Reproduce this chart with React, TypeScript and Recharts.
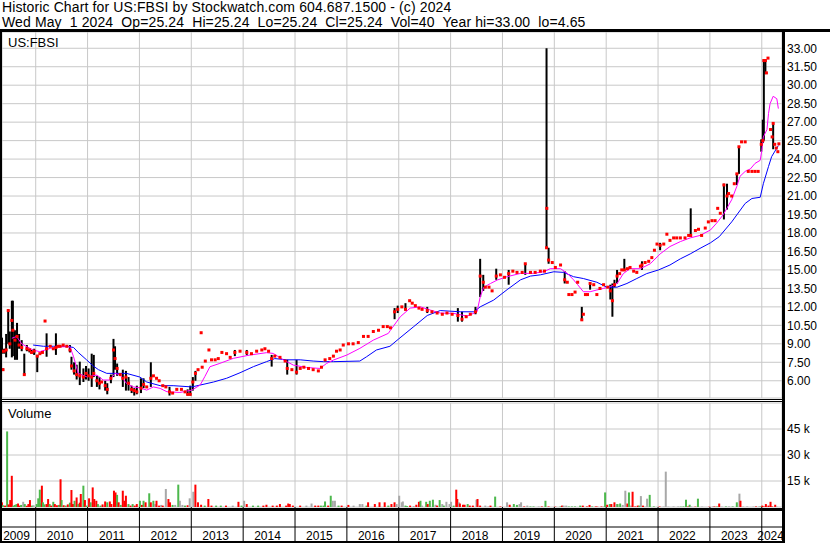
import React from 'react';
import { ComposedChart, Bar, Line, Scatter, XAxis, YAxis, CartesianGrid, Cell } from 'recharts';

const FONT = '"Liberation Sans", Arial, Helvetica, sans-serif';

// ---------- axes ----------
const X_DOMAIN: [number, number] = [2009.35, 2024.39];
const yearBoundaries = [2010, 2011, 2012, 2013, 2014, 2015, 2016, 2017, 2018, 2019, 2020, 2021, 2022, 2023, 2024];
const yearLabels = ['2009', '2010', '2011', '2012', '2013', '2014', '2015', '2016', '2017', '2018', '2019', '2020', '2021', '2022', '2023', '2024'];
const yearLabelPos = [2009.63, 2010.47, 2011.47, 2012.47, 2013.47, 2014.47, 2015.47, 2016.47, 2017.47, 2018.47, 2019.47, 2020.47, 2021.47, 2022.47, 2023.47, 2024.17];
const priceTicks = [6, 7.5, 9, 10.5, 12, 13.5, 15, 16.5, 18, 19.5, 21, 22.5, 24, 25.5, 27, 28.5, 30, 31.5, 33];
const volumeTicks = [15, 30, 45];

// ---------- price bars: [date, close, low?, high?] ----------
const priceBars: number[][] = [
  [2009.35, 8.4, 8.2, 9.5], [2009.37, 6.9, 6.8, 7.0], [2009.39, 8.4, 8.2, 8.6], [2009.43, 8.5, 7.9, 9.8],
  [2009.47, 11.7, 9.0, 11.8], [2009.50, 9.0, 8.6, 10.0], [2009.54, 10.9, 7.9, 12.5], [2009.56, 10.1, 8.0, 12.5],
  [2009.60, 9.3, 7.7, 10.1], [2009.64, 9.6, 7.7, 10.7], [2009.68, 8.9, 8.6, 9.8], [2009.73, 8.7, 8.4, 9.3],
  [2009.78, 6.5, 6.5, 8.2], [2009.83, 8.6, 8.4, 8.9], [2009.88, 8.5, 8.3, 8.6], [2009.92, 8.3, 8.2, 8.5],
  [2009.97, 8.4, 8.1, 8.6],
  [2010.03, 8.0, 6.7, 8.1], [2010.08, 8.2], [2010.13, 8.3], [2010.18, 10.85], [2010.21, 8.6, 7.95, 9.85],
  [2010.28, 8.8], [2010.34, 8.6], [2010.39, 8.7, 8.1, 9.85], [2010.43, 8.8], [2010.47, 8.8], [2010.53, 8.9],
  [2010.60, 8.8], [2010.66, 8.5, 8.3, 8.9], [2010.69, 7.2, 6.9, 7.95], [2010.74, 6.8, 6.5, 7.5],
  [2010.79, 6.5, 6.1, 7.3], [2010.85, 6.4, 5.65, 7.55], [2010.92, 6.3, 5.9, 7.0], [2010.97, 6.6, 6.1, 7.2],
  [2011.02, 6.4, 6.0, 7.0], [2011.08, 6.3, 5.5, 8.2], [2011.12, 6.6, 6.3, 8.1], [2011.18, 6.0, 5.5, 6.4],
  [2011.23, 5.8, 5.3, 6.3], [2011.27, 5.9], [2011.34, 5.6, 5.2, 6.0], [2011.38, 5.3, 4.9, 5.8],
  [2011.45, 6.2, 5.8, 6.5], [2011.50, 8.5, 6.3, 9.4], [2011.53, 7.8, 6.9, 8.8], [2011.57, 7.0, 6.4, 7.4],
  [2011.63, 6.5], [2011.68, 6.2, 5.5, 6.9], [2011.74, 6.3, 5.2, 6.8], [2011.79, 5.8, 5.2, 6.3],
  [2011.85, 5.3, 5.0, 5.6], [2011.90, 5.2, 4.8, 5.4], [2011.95, 5.1, 4.9, 5.6],
  [2012.03, 5.4, 5.0, 6.2], [2012.08, 5.7, 5.4, 6.2], [2012.14, 5.5], [2012.22, 6.2, 5.5, 7.5], [2012.27, 6.4],
  [2012.33, 6.2], [2012.38, 6.0], [2012.45, 5.6], [2012.51, 5.5], [2012.58, 5.1, 4.8, 5.5], [2012.64, 5.0],
  [2012.72, 5.3], [2012.81, 5.3], [2012.88, 5.1], [2012.93, 4.9, 4.8, 5.3], [2012.98, 4.9, 4.8, 5.6],
  [2013.03, 5.9, 5.2, 6.3], [2013.08, 6.6, 6.0, 6.8], [2013.13, 6.9], [2013.19, 9.9], [2013.21, 7.1],
  [2013.27, 7.6], [2013.34, 8.5], [2013.39, 7.7], [2013.46, 7.7], [2013.52, 7.8], [2013.59, 8.3],
  [2013.68, 8.2], [2013.75, 7.9], [2013.84, 8.3, 8.0, 8.5], [2013.94, 8.4],
  [2014.07, 8.3, 8.1, 8.5], [2014.16, 8.2], [2014.26, 8.4], [2014.36, 8.5], [2014.42, 8.6], [2014.49, 8.4],
  [2014.55, 7.8, 7.15, 8.1], [2014.61, 8.0], [2014.71, 7.9], [2014.81, 7.6], [2014.85, 7.0, 6.5, 7.7], [2014.94, 6.9],
  [2015.03, 6.7, 6.5, 7.7], [2015.10, 7.0], [2015.17, 7.1], [2015.26, 7.0], [2015.35, 6.9], [2015.45, 6.8],
  [2015.51, 7.1], [2015.58, 7.7], [2015.67, 7.8], [2015.74, 8.0], [2015.80, 8.4], [2015.87, 8.5], [2015.93, 8.9],
  [2016.03, 9.0], [2016.12, 9.0], [2016.22, 9.1], [2016.32, 9.6], [2016.41, 9.6], [2016.51, 10.0],
  [2016.61, 10.1], [2016.70, 10.4], [2016.78, 10.4], [2016.84, 10.3], [2016.92, 11.6, 11.0, 11.9], [2016.98, 11.8, 11.5, 12.1],
  [2017.06, 12.0], [2017.13, 11.8, 11.7, 12.3], [2017.21, 12.5], [2017.26, 12.3], [2017.32, 12.1], [2017.39, 11.9],
  [2017.45, 11.8], [2017.55, 11.7, 11.5, 12.0], [2017.64, 11.6], [2017.74, 11.5], [2017.84, 11.4], [2017.93, 11.5],
  [2018.03, 11.4], [2018.14, 11.3, 10.8, 11.9], [2018.22, 11.0, 10.8, 11.6], [2018.30, 11.2], [2018.38, 11.4],
  [2018.48, 11.6, 11.4, 12.0], [2018.57, 14.5, 12.8, 15.9], [2018.63, 14.0, 13.3, 14.6], [2018.67, 13.6],
  [2018.74, 13.6], [2018.80, 13.3], [2018.88, 14.5, 14.2, 15.1], [2018.96, 14.6],
  [2019.04, 14.4], [2019.12, 14.7, 13.8, 15.0], [2019.20, 14.9], [2019.28, 14.8], [2019.38, 14.8],
  [2019.44, 15.5, 14.6, 15.5], [2019.54, 14.8], [2019.63, 14.8], [2019.73, 14.9], [2019.81, 14.9],
  [2019.85, 16.8, 16.8, 33.0], [2019.855, 20.0], [2019.89, 15.8, 15.5, 16.8], [2019.96, 15.6],
  [2020.02, 15.2], [2020.12, 15.4], [2020.20, 14.2, 13.9, 14.9], [2020.25, 14.0], [2020.28, 13.0], [2020.34, 13.0],
  [2020.40, 13.2], [2020.45, 14.0], [2020.53, 10.95, 10.9, 12.0], [2020.56, 11.4], [2020.60, 13.0], [2020.64, 13.0],
  [2020.69, 13.9, 13.4, 13.9], [2020.76, 13.8], [2020.82, 13.0], [2020.88, 13.5], [2020.95, 13.8],
  [2021.03, 13.6], [2021.08, 13.3, 12.6, 13.8], [2021.12, 12.5, 11.2, 13.9], [2021.16, 13.8, 13.6, 14.2],
  [2021.21, 14.5, 13.9, 15.0], [2021.26, 14.7], [2021.30, 15.0], [2021.35, 15.0, 15.0, 15.9], [2021.41, 15.1],
  [2021.46, 15.2], [2021.53, 14.9], [2021.59, 14.8], [2021.66, 15.3], [2021.69, 15.4, 15.0, 15.7], [2021.75, 15.6],
  [2021.82, 15.7], [2021.88, 16.0], [2021.93, 16.6], [2021.98, 17.1],
  [2022.04, 17.0, 16.6, 17.2], [2022.11, 17.1], [2022.17, 17.9], [2022.23, 17.4], [2022.30, 17.6], [2022.36, 17.6],
  [2022.43, 17.6], [2022.52, 17.6], [2022.59, 17.8], [2022.63, 17.8, 17.7, 20.0], [2022.72, 18.2], [2022.78, 18.3],
  [2022.84, 17.8], [2022.91, 18.4], [2022.97, 18.9],
  [2023.04, 19.0], [2023.10, 19.0], [2023.15, 20.0], [2023.20, 19.6], [2023.27, 21.9, 19.1, 22.0],
  [2023.33, 21.0, 19.9, 22.0], [2023.36, 21.2], [2023.42, 21.0], [2023.47, 22.0], [2023.52, 22.8, 21.9, 22.8],
  [2023.56, 25.0, 22.8, 25.0], [2023.61, 25.4], [2023.68, 25.4], [2023.74, 23.0], [2023.81, 23.0], [2023.87, 23.0],
  [2023.93, 23.0], [2023.99, 25.2, 24.6, 25.6],
  [2024.02, 25.5, 25.3, 27.2], [2024.04, 32.0, 25.5, 32.1], [2024.07, 32.0, 30.9, 32.1], [2024.09, 31.0],
  [2024.12, 32.2], [2024.17, 26.4], [2024.20, 25.8], [2024.22, 26.9, 24.8, 26.9], [2024.25, 25.2],
  [2024.28, 24.9], [2024.31, 24.6], [2024.33, 25.24],
];

// ---------- moving averages: [date, value] ----------
const ma200: number[][] = [
  [2009.95, 8.9], [2010.15, 8.8], [2010.34, 8.8], [2010.60, 8.8], [2010.73, 8.7], [2010.82, 8.3], [2010.98, 7.7],
  [2011.11, 7.2], [2011.21, 6.9], [2011.37, 6.6], [2011.75, 6.6], [2012.01, 6.3], [2012.14, 5.9], [2012.40, 5.6],
  [2012.65, 5.6], [2013.01, 5.5], [2013.17, 5.65], [2013.43, 5.9], [2013.68, 6.2], [2013.94, 6.65], [2014.20, 7.15],
  [2014.45, 7.55], [2014.61, 7.8], [2014.84, 7.7], [2015.10, 7.7], [2015.35, 7.6], [2015.55, 7.55], [2015.74, 7.55],
  [2016.25, 7.6], [2016.38, 7.95], [2016.57, 8.5], [2016.83, 8.8], [2017.0, 9.4], [2017.29, 10.4], [2017.55, 11.3],
  [2017.80, 11.7], [2018.19, 11.6], [2018.45, 11.6], [2018.57, 12.0], [2018.83, 12.55], [2019.09, 13.4],
  [2019.35, 14.2], [2019.54, 14.5], [2019.73, 14.6], [2019.99, 14.85], [2020.18, 14.8], [2020.37, 14.45],
  [2020.56, 14.3], [2020.82, 14.0], [2021.01, 13.6], [2021.21, 13.6], [2021.40, 13.9], [2021.59, 14.3],
  [2021.78, 14.7], [2022.01, 15.0], [2022.23, 15.4], [2022.43, 15.9], [2022.62, 16.3], [2022.81, 16.75],
  [2023.01, 17.2], [2023.18, 17.7], [2023.42, 18.9], [2023.68, 20.4], [2023.81, 20.8], [2023.97, 20.9],
  [2024.03, 22.0], [2024.13, 23.4], [2024.19, 24.2], [2024.32, 25.1],
];
const ma50: number[][] = [
  [2009.54, 9.45], [2009.63, 9.6], [2009.73, 9.0], [2009.83, 8.76], [2009.955, 8.49], [2010.08, 8.36],
  [2010.28, 8.63], [2010.47, 8.76], [2010.66, 8.76], [2010.73, 7.95], [2010.82, 6.6], [2010.98, 6.33],
  [2011.18, 6.46], [2011.30, 6.06], [2011.43, 6.06], [2011.53, 6.6], [2011.63, 6.46], [2011.75, 5.79],
  [2011.88, 5.5], [2012.01, 5.43], [2012.14, 5.24], [2012.27, 5.5], [2012.40, 5.38], [2012.53, 5.11],
  [2012.78, 5.05], [2013.01, 5.24], [2013.17, 5.65], [2013.26, 6.33], [2013.36, 7.14], [2013.55, 7.41],
  [2013.81, 7.82], [2014.13, 8.09], [2014.45, 8.28], [2014.58, 8.22], [2014.78, 7.68], [2014.97, 7.27],
  [2015.22, 7.08], [2015.48, 7.0], [2015.61, 7.41], [2015.74, 7.68], [2016.0, 8.09], [2016.25, 8.63],
  [2016.51, 9.3], [2016.80, 9.85], [2016.84, 10.1], [2017.03, 11.2], [2017.22, 11.9], [2017.42, 12.0],
  [2017.61, 11.74], [2017.80, 11.5], [2018.06, 11.47], [2018.32, 11.25], [2018.51, 11.6], [2018.57, 12.8],
  [2018.64, 13.6], [2018.77, 13.9], [2018.90, 14.18], [2019.09, 14.45], [2019.35, 14.72], [2019.60, 14.72],
  [2019.80, 14.86], [2019.92, 15.1], [2020.12, 15.1], [2020.25, 14.72], [2020.37, 14.2], [2020.45, 13.8],
  [2020.56, 13.23], [2020.69, 13.23], [2020.82, 13.37], [2020.95, 13.5], [2021.08, 13.64], [2021.21, 13.9],
  [2021.33, 14.7], [2021.46, 15.1], [2021.66, 15.1], [2021.85, 15.5], [2022.04, 16.3], [2022.23, 16.9],
  [2022.43, 17.3], [2022.62, 17.6], [2022.81, 17.8], [2023.01, 18.24], [2023.13, 18.8], [2023.26, 19.5],
  [2023.34, 20.1], [2023.42, 20.7], [2023.52, 21.8], [2023.58, 22.6], [2023.68, 23.0], [2023.78, 23.2],
  [2023.87, 23.65], [2023.97, 23.9], [2024.0, 24.7], [2024.03, 25.8], [2024.10, 26.4], [2024.13, 27.7],
  [2024.16, 28.5], [2024.22, 29.1], [2024.29, 28.9], [2024.32, 28.1],
];

// ---------- volume (thousands): [date, volume, colour r=down g=up n=unchanged] ----------
const volumeBars: [number, number, string][] = [
  [2009.35, 2.7, 'r'], [2009.37, 1.0, 'g'], [2009.41, 0.8, 'r'], [2009.45, 43.6, 'g'], [2009.48, 1.5, 'r'],
  [2009.51, 4.0, 'r'], [2009.54, 18.0, 'r'], [2009.57, 0.8, 'g'], [2009.60, 1.2, 'g'], [2009.63, 1.7, 'g'],
  [2009.66, 2.0, 'r'], [2009.69, 0.8, 'r'], [2009.72, 1.2, 'g'], [2009.76, 3.0, 'n'], [2009.79, 1.7, 'g'],
  [2009.83, 0.7, 'r'], [2009.86, 1.7, 'r'], [2009.89, 4.0, 'r'], [2009.93, 0.8, 'g'], [2009.96, 1.0, 'n'],
  [2010.02, 1.7, 'g'], [2010.05, 5.0, 'g'], [2010.08, 10.0, 'g'], [2010.10, 2.0, 'g'], [2010.12, 12.3, 'r'],
  [2010.14, 2.7, 'g'], [2010.17, 1.5, 'g'], [2010.21, 1.7, 'r'], [2010.24, 4.6, 'r'], [2010.27, 1.7, 'g'],
  [2010.30, 0.8, 'r'], [2010.34, 3.0, 'g'], [2010.37, 1.7, 'r'], [2010.41, 1.0, 'r'], [2010.45, 1.2, 'g'],
  [2010.48, 16.0, 'r'], [2010.50, 4.0, 'g'], [2010.54, 1.0, 'r'], [2010.58, 0.8, 'g'], [2010.62, 1.5, 'r'],
  [2010.66, 2.5, 'g'], [2010.69, 9.8, 'r'], [2010.72, 1.7, 'r'], [2010.75, 3.6, 'g'], [2010.79, 5.5, 'r'],
  [2010.82, 1.7, 'g'], [2010.85, 2.5, 'r'], [2010.87, 7.5, 'r'], [2010.92, 12.3, 'g'], [2010.95, 4.0, 'r'],
  [2010.98, 0.8, 'g'],
  [2011.03, 5.0, 'r'], [2011.06, 2.7, 'g'], [2011.10, 11.3, 'r'], [2011.13, 4.6, 'r'], [2011.17, 3.6, 'r'],
  [2011.20, 1.7, 'g'], [2011.25, 0.8, 'g'], [2011.29, 1.5, 'r'], [2011.34, 3.2, 'r'], [2011.38, 2.7, 'g'],
  [2011.43, 3.2, 'r'], [2011.46, 1.7, 'r'], [2011.51, 9.4, 'r'], [2011.54, 8.4, 'r'], [2011.57, 7.0, 'g'],
  [2011.60, 2.7, 'r'], [2011.64, 1.2, 'g'], [2011.68, 9.4, 'r'], [2011.71, 3.6, 'r'], [2011.74, 6.5, 'r'],
  [2011.79, 1.7, 'g'], [2011.83, 0.8, 'r'], [2011.87, 1.7, 'g'], [2011.91, 0.8, 'r'], [2011.95, 1.7, 'r'],
  [2012.01, 3.6, 'g'], [2012.05, 1.2, 'r'], [2012.08, 3.6, 'g'], [2012.12, 2.7, 'r'], [2012.19, 7.9, 'g'],
  [2012.22, 2.7, 'r'], [2012.27, 3.6, 'g'], [2012.30, 1.7, 'n'], [2012.33, 3.6, 'r'], [2012.38, 0.8, 'r'],
  [2012.42, 1.2, 'n'], [2012.45, 0.8, 'r'], [2012.51, 10.4, 'n'], [2012.56, 4.6, 'r'], [2012.59, 2.7, 'r'],
  [2012.64, 1.2, 'g'], [2012.69, 1.2, 'n'], [2012.75, 12.9, 'g'], [2012.78, 3.6, 'n'], [2012.83, 1.2, 'n'],
  [2012.88, 0.8, 'g'], [2012.93, 1.0, 'r'], [2012.97, 5.0, 'n'],
  [2013.04, 8.8, 'n'], [2013.08, 12.9, 'r'], [2013.13, 2.7, 'r'], [2013.19, 1.3, 'r'], [2013.26, 0.8, 'g'],
  [2013.33, 4.6, 'r'], [2013.39, 0.8, 'r'], [2013.48, 0.8, 'g'], [2013.57, 0.8, 'g'], [2013.67, 0.8, 'r'],
  [2013.80, 0.8, 'n'], [2013.91, 3.0, 'r'], [2013.97, 0.8, 'g'],
  [2014.02, 3.6, 'n'], [2014.07, 1.7, 'r'], [2014.19, 0.8, 'g'], [2014.29, 0.8, 'g'], [2014.39, 0.8, 'r'],
  [2014.45, 1.3, 'r'], [2014.57, 0.8, 'r'], [2014.65, 0.8, 'r'], [2014.71, 1.7, 'r'], [2014.83, 0.8, 'r'],
  [2014.87, 2.0, 'r'], [2014.90, 1.7, 'r'], [2014.96, 0.8, 'r'],
  [2015.10, 0.8, 'r'], [2015.22, 0.8, 'n'], [2015.32, 2.0, 'n'], [2015.39, 0.8, 'r'], [2015.45, 0.8, 'r'],
  [2015.50, 0.8, 'g'], [2015.55, 0.8, 'g'], [2015.58, 3.2, 'g'], [2015.64, 0.8, 'r'], [2015.69, 6.5, 'g'],
  [2015.73, 3.6, 'n'], [2015.77, 3.6, 'n'], [2015.84, 0.8, 'g'], [2015.90, 0.8, 'r'],
  [2016.03, 1.2, 'r'], [2016.13, 0.8, 'n'], [2016.25, 1.7, 'n'], [2016.30, 1.7, 'n'], [2016.38, 0.8, 'g'],
  [2016.41, 2.7, 'r'], [2016.54, 1.7, 'r'], [2016.63, 2.7, 'r'], [2016.73, 2.7, 'r'], [2016.80, 0.8, 'g'],
  [2016.86, 1.7, 'r'], [2016.92, 2.7, 'r'], [2016.96, 1.7, 'n'],
  [2017.01, 6.5, 'n'], [2017.06, 2.7, 'n'], [2017.08, 3.2, 'n'], [2017.13, 0.8, 'g'], [2017.16, 0.5, 'g'],
  [2017.22, 0.8, 'r'], [2017.29, 0.5, 'n'], [2017.34, 1.3, 'r'], [2017.39, 3.0, 'r'], [2017.42, 3.6, 'g'],
  [2017.45, 0.8, 'n'], [2017.53, 3.0, 'g'], [2017.56, 1.7, 'r'], [2017.60, 3.6, 'g'], [2017.66, 4.2, 'g'],
  [2017.71, 1.3, 'n'], [2017.74, 0.8, 'r'], [2017.79, 4.0, 'g'], [2017.84, 1.7, 'n'], [2017.87, 0.8, 'g'],
  [2017.92, 3.0, 'n'], [2017.98, 1.7, 'n'],
  [2018.01, 3.0, 'n'], [2018.06, 0.8, 'g'], [2018.11, 10.0, 'r'], [2018.13, 4.6, 'r'], [2018.16, 2.7, 'n'],
  [2018.18, 2.0, 'r'], [2018.24, 1.3, 'r'], [2018.27, 1.3, 'r'], [2018.33, 1.7, 'g'], [2018.37, 0.8, 'r'],
  [2018.43, 0.8, 'r'], [2018.50, 4.2, 'n'], [2018.52, 4.6, 'r'], [2018.57, 0.8, 'r'], [2018.67, 0.8, 'n'],
  [2018.73, 0.3, 'n'], [2018.77, 0.8, 'r'], [2018.86, 6.0, 'g'], [2018.96, 0.3, 'r'],
  [2019.09, 2.7, 'n'], [2019.14, 1.3, 'r'], [2019.22, 1.7, 'g'], [2019.28, 1.2, 'g'], [2019.33, 1.7, 'n'],
  [2019.36, 2.7, 'n'], [2019.42, 0.3, 'r'], [2019.48, 0.8, 'n'], [2019.54, 0.3, 'g'], [2019.60, 0.3, 'g'],
  [2019.70, 0.3, 'n'], [2019.76, 0.3, 'r'], [2019.83, 3.6, 'g'], [2019.89, 0.3, 'r'],
  [2020.02, 0.2, 'r'], [2020.12, 0.3, 'g'], [2020.15, 0.8, 'r'], [2020.18, 0.8, 'n'], [2020.23, 0.8, 'n'],
  [2020.28, 0.3, 'g'], [2020.34, 0.3, 'g'], [2020.40, 0.3, 'g'], [2020.50, 0.8, 'g'], [2020.55, 0.8, 'r'],
  [2020.63, 0.3, 'r'], [2020.68, 1.2, 'r'], [2020.73, 0.3, 'g'], [2020.80, 0.3, 'r'], [2020.83, 0.2, 'r'],
  [2020.91, 0.3, 'r'], [2020.96, 0.3, 'n'], [2020.98, 8.4, 'g'],
  [2021.02, 1.3, 'r'], [2021.07, 1.7, 'g'], [2021.10, 1.7, 'r'], [2021.16, 2.7, 'r'], [2021.20, 1.7, 'n'],
  [2021.22, 1.7, 'g'], [2021.27, 2.0, 'g'], [2021.32, 1.2, 'n'], [2021.37, 9.4, 'n'], [2021.41, 2.0, 'r'],
  [2021.44, 8.4, 'g'], [2021.48, 0.8, 'n'], [2021.51, 8.8, 'r'], [2021.56, 0.3, 'r'], [2021.61, 0.8, 'r'],
  [2021.64, 0.8, 'g'], [2021.67, 6.3, 'n'], [2021.71, 0.8, 'r'], [2021.75, 0.2, 'n'], [2021.79, 4.8, 'n'],
  [2021.84, 7.0, 'g'], [2021.92, 0.3, 'g'],
  [2022.03, 0.3, 'r'], [2022.11, 0.2, 'n'], [2022.15, 20.4, 'n'], [2022.20, 0.2, 'n'], [2022.30, 0.3, 'n'],
  [2022.39, 0.3, 'n'], [2022.44, 0.2, 'g'], [2022.49, 0.3, 'g'], [2022.54, 4.2, 'g'], [2022.58, 0.3, 'r'],
  [2022.61, 1.3, 'g'], [2022.64, 0.3, 'n'], [2022.72, 0.2, 'r'], [2022.77, 4.8, 'g'], [2022.85, 0.2, 'n'],
  [2022.99, 0.2, 'r'],
  [2023.06, 0.3, 'n'], [2023.09, 0.3, 'r'], [2023.14, 0.3, 'g'], [2023.18, 2.0, 'r'], [2023.23, 0.2, 'n'],
  [2023.31, 0.3, 'g'], [2023.37, 0.3, 'n'], [2023.44, 0.3, 'g'], [2023.52, 2.7, 'g'], [2023.57, 7.7, 'n'],
  [2023.59, 3.6, 'r'], [2023.64, 0.2, 'n'], [2023.72, 0.3, 'n'], [2023.84, 0.2, 'n'], [2023.89, 0.3, 'r'],
  [2023.95, 0.3, 'n'], [2023.98, 0.3, 'g'],
  [2024.01, 0.8, 'r'], [2024.04, 0.3, 'r'], [2024.08, 1.7, 'r'], [2024.13, 0.8, 'r'], [2024.17, 3.0, 'r'],
  [2024.20, 0.3, 'r'], [2024.26, 1.3, 'r'], [2024.29, 0.2, 'n'],
];

const VOL_COLORS: Record<string, string> = { r: '#ff0000', g: '#4cb84c', n: '#a8a8a8' };

const priceData = priceBars.map((b) => ({
  t: b[0],
  cl: b[1],
  range: [b.length > 2 ? b[2] : b[1], b.length > 3 ? b[3] : b[1]],
}));
const ma200Data = ma200.map(([t, v]) => ({ t, v }));
const ma50Data = ma50.map(([t, v]) => ({ t, v }));
const volData = volumeBars.map(([t, v, c]) => ({ t, v, fill: VOL_COLORS[c] }));

const tickStyle = { fill: '#000', fontSize: 12, fontFamily: FONT };

const RedSquare = (props: any) => {
  const { cx, cy } = props;
  if (cx == null || cy == null || isNaN(cx) || isNaN(cy)) return null;
  return <rect x={cx - 1.5} y={cy - 1.5} width={3} height={3} fill="#ff0000" />;
};

// fixed-width stick centred on the bar's own x position
const Stick = (props: any) => {
  const { x, y, width, height, fill } = props;
  if (x == null || y == null || !height || isNaN(height)) return null;
  const h = Math.abs(height);
  const top = height < 0 ? y + height : y;
  return <rect x={x + width / 2 - 1} y={top} width={2} height={h} fill={fill} />;
};

const black = (style: React.CSSProperties): React.CSSProperties => ({ position: 'absolute', background: '#000', ...style });

const titleStyle: React.CSSProperties = { position: 'absolute', left: 2, fontSize: 14, letterSpacing: 0.12, lineHeight: '15px', whiteSpace: 'pre' };

export default function App() {
  return (
    <div style={{ position: 'absolute', left: 0, top: 0, width: 830, height: 543, background: '#fff', overflow: 'hidden', fontFamily: FONT, color: '#000' }}>
      <div style={{ ...titleStyle, top: 0 }}>
        Historic Chart for US:FBSI by Stockwatch.com 604.687.1500 - (c) 2024
      </div>
      <div style={{ ...titleStyle, top: 15 }}>
        {'Wed May  1 2024  Op=25.24  Hi=25.24  Lo=25.24  Cl=25.24  Vol=40  Year hi=33.00  lo=4.65'}
      </div>

      <div style={{ position: 'absolute', left: 0, top: 32 }}>
        <ComposedChart width={830} height={367} data={priceData} margin={{ top: 0, right: 0, bottom: 1, left: 2 }}>
          <CartesianGrid stroke="#c8c8c8" strokeWidth={1} />
          <XAxis type="number" dataKey="t" domain={X_DOMAIN} allowDataOverflow ticks={yearBoundaries} hide />
          <YAxis
            orientation="right"
            domain={[4.6, 34.32]}
            allowDataOverflow
            ticks={priceTicks}
            interval={0}
            width={48}
            axisLine={false}
            tickLine={false}
            tickSize={3}
            tickMargin={2}
            tick={tickStyle}
            tickFormatter={(v: number) => v.toFixed(2)}
          />
          <Bar dataKey="range" barSize={2} fill="#000000" shape={Stick} isAnimationActive={false} />
          <Line data={ma200Data} dataKey="v" type="linear" stroke="#0000ff" strokeWidth={1} dot={false} isAnimationActive={false} />
          <Line data={ma50Data} dataKey="v" type="linear" stroke="#ff00ff" strokeWidth={1} dot={false} isAnimationActive={false} />
          <Scatter data={priceData} dataKey="cl" shape={RedSquare} isAnimationActive={false} />
        </ComposedChart>
      </div>

      <div style={{ position: 'absolute', left: 0, top: 402 }}>
        <ComposedChart width={830} height={141} data={volData} margin={{ top: 1, right: 0, bottom: 0, left: 2 }}>
          <CartesianGrid stroke="#c8c8c8" strokeWidth={1} />
          <XAxis
            type="number"
            dataKey="t"
            domain={X_DOMAIN}
            allowDataOverflow
            ticks={yearBoundaries}
            interval={0}
            height={20}
            axisLine={false}
            tickSize={34}
            tickLine={{ stroke: '#000', strokeWidth: 1 }}
            tick={tickStyle}
            tickFormatter={() => ''}
          />
          <XAxis
            xAxisId="lbl"
            type="number"
            dataKey="t"
            domain={X_DOMAIN}
            allowDataOverflow
            ticks={yearLabelPos}
            interval={0}
            height={16}
            axisLine={{ stroke: '#000', strokeWidth: 1 }}
            tickLine={false}
            tickSize={0}
            tickMargin={4}
            tick={tickStyle}
            tickFormatter={(_v: number, i: number) => yearLabels[i]}
          />
          <YAxis
            orientation="right"
            domain={[0, 60]}
            allowDataOverflow
            ticks={volumeTicks}
            interval={0}
            width={48}
            axisLine={false}
            tickLine={false}
            tickSize={3}
            tickMargin={2}
            tick={tickStyle}
            tickFormatter={(v: number) => `${v} k`}
          />
          <Bar dataKey="v" barSize={2} shape={Stick} isAnimationActive={false}>
            {volData.map((d, i) => (
              <Cell key={i} fill={d.fill} />
            ))}
          </Bar>
          <Line xAxisId="lbl" dataKey="v" stroke="none" dot={false} activeDot={false} legendType="none" isAnimationActive={false} />
        </ComposedChart>
      </div>

      <div style={{ position: 'absolute', left: 8, top: 35, fontSize: 13, lineHeight: '15px' }}>US:FBSI</div>
      <div style={{ position: 'absolute', left: 8, top: 406, fontSize: 13, lineHeight: '15px' }}>Volume</div>

      <div style={black({ left: 0, top: 29, width: 830, height: 3 })} />
      <div style={black({ left: 0, top: 29, width: 2, height: 514 })} />
      <div style={black({ left: 782, top: 29, width: 3, height: 514 })} />
      <div style={black({ left: 0, top: 399, width: 785, height: 1 })} />
      <div style={black({ left: 0, top: 401, width: 785, height: 1 })} />
      <div style={black({ left: 0, top: 508, width: 785, height: 3 })} />
      <div style={black({ left: 0, top: 541, width: 785, height: 2 })} />
    </div>
  );
}
